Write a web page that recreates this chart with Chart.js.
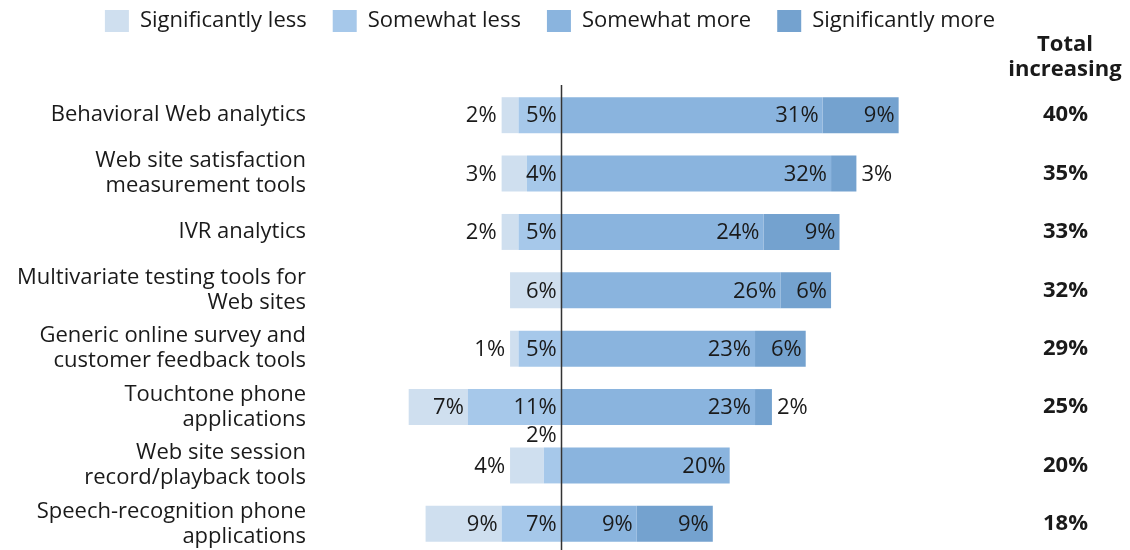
<!DOCTYPE html>
<html>
<head>
  <meta charset="utf-8">
  <title>Diverging bars: less / more</title>
  <style>
    body { margin: 0; background: #fff; overflow: hidden; }
    #chart { display: block; }
  </style>
</head>
<body>
  <canvas id="chart" width="1130" height="554"></canvas>

  <script src="https://cdn.jsdelivr.net/npm/chart.js"></script>
  <script>
    // data
    const categories = [
      'Behavioral Web analytics',
      ['Web site satisfaction', 'measurement tools'],
      'IVR analytics',
      ['Multivariate testing tools for', 'Web sites'],
      ['Generic online survey and', 'customer feedback tools'],
      ['Touchtone phone', 'applications'],
      ['Web site session', 'record/playback tools'],
      ['Speech-recognition phone', 'applications']
    ];
    const sigLess  = [2, 3, 2, 6, 1, 7, 4, 9];
    const someLess = [5, 4, 5, 0, 5, 11, 2, 7];
    const someMore = [31, 32, 24, 26, 23, 23, 20, 9];
    const sigMore  = [9, 3, 9, 6, 6, 2, 0, 9];
    const totalIncreasing = [40, 35, 33, 32, 29, 25, 20, 18];
    const seriesNames = ['Significantly less', 'Somewhat less', 'Somewhat more', 'Significantly more'];
    const colors = ['#cfdfef', '#a6c8ea', '#8ab4de', '#74a2cf'];

    const FONT = '"Open Sans", "Noto Sans", sans-serif';
    const TEXT = '#1a1a1a';
    // smallest value that gets its label inside the bar (per series)
    const insideMin = [5, 3, 0, 4];

    const segLabels = {
      id: 'segLabels',
      afterLayout(chart) {
        // legend row: a bit higher and centred a little left, like the original
        const lg = chart.legend;
        lg.top -= 16;
        lg.bottom -= 16;
        lg.right = 1100;
      },
      afterDatasetsDraw(chart) {
        const ctx = chart.ctx;
        const xs = chart.scales.x;
        const area = chart.chartArea;

        // centre line at 0
        const x0 = Math.round(xs.getPixelForValue(0)) + 0.5;
        ctx.save();
        ctx.strokeStyle = '#333';
        ctx.lineWidth = 1.5;
        ctx.beginPath();
        ctx.moveTo(x0, area.top - 1);
        ctx.lineTo(x0, area.bottom);
        ctx.stroke();

        // value labels
        ctx.font = '22px ' + FONT;
        ctx.fillStyle = TEXT;
        ctx.textBaseline = 'middle';
        chart.data.datasets.forEach((ds, di) => {
          chart.getDatasetMeta(di).data.forEach((bar, i) => {
            const v = Math.abs(ds.data[i]);
            if (!v) return;
            const left = Math.min(bar.x, bar.base);
            const right = Math.max(bar.x, bar.base);
            let x = right - 4, y = bar.y + 1, align = 'right';
            if (v < insideMin[di]) {
              if (di === 0) x = left - 5;
              else if (di === 1) y = bar.y - bar.height / 2 - 12;
              else { x = right + 5; align = 'left'; }
            }
            ctx.textAlign = align;
            ctx.fillText(v + '%', x, y);
          });
        });

        // header over the totals column
        ctx.font = 'bold 22px ' + FONT;
        ctx.textAlign = 'center';
        ctx.fillText('Total', 1065, 45);
        ctx.fillText('increasing', 1065, 70);
        ctx.restore();
      }
    };

    const data = {
      labels: categories,
      datasets: [
        { label: seriesNames[0], data: sigLess.map(v => -v), backgroundColor: colors[0], order: 1 },
        { label: seriesNames[1], data: someLess.map(v => -v), backgroundColor: colors[1], order: 0 },
        { label: seriesNames[2], data: someMore, backgroundColor: colors[2], order: 0 },
        { label: seriesNames[3], data: sigMore, backgroundColor: colors[3], order: 1 }
      ]
    };

    // fixed width, no extra room above/below for the first/last label
    const fixAxis = w => s => { s.width = w; s.paddingTop = 0; s.paddingBottom = 0; };

    new Chart(document.getElementById('chart'), {
      type: 'bar',
      data: data,
      options: {
        indexAxis: 'y',
        responsive: false,
        animation: false,
        barPercentage: 1,
        categoryPercentage: 0.616,
        borderWidth: 0,
        layout: { padding: { top: 0, bottom: 1, left: 0, right: 0 } },
        scales: {
          x: {
            stacked: true,
            display: false,
            min: -28.5,
            max: 52
          },
          y: {
            stacked: true,
            grid: { display: false, drawTicks: false },
            border: { display: false },
            afterFit: fixAxis(320),
            ticks: {
              autoSkip: false,
              padding: 14,
              color: TEXT,
              font: { family: FONT, size: 22, lineHeight: 25 / 22 }
            }
          },
          y2: {
            type: 'category',
            position: 'right',
            labels: totalIncreasing.map(v => v + '%'),
            offset: true,
            grid: { display: false, drawTicks: false },
            border: { display: false },
            afterFit: fixAxis(130),
            ticks: {
              autoSkip: false,
              crossAlign: 'center',
              padding: 43,
              color: TEXT,
              font: { family: FONT, size: 22, weight: 'bold' }
            }
          }
        },
        plugins: {
          legend: {
            position: 'top',
            labels: {
              boxWidth: 24,
              boxHeight: 22,
              padding: 26,
              color: TEXT,
              font: { family: FONT, size: 22 },
              sort: (a, b) => a.datasetIndex - b.datasetIndex
            }
          },
          // empty title only keeps room for the "Total increasing" header
          title: {
            display: true,
            text: '',
            weight: 500,
            padding: { top: 4, bottom: 4 },
            font: { size: 20, lineHeight: 1 }
          },
          tooltip: { enabled: false }
        }
      },
      plugins: [segLabels]
    });
  </script>
</body>
</html>
